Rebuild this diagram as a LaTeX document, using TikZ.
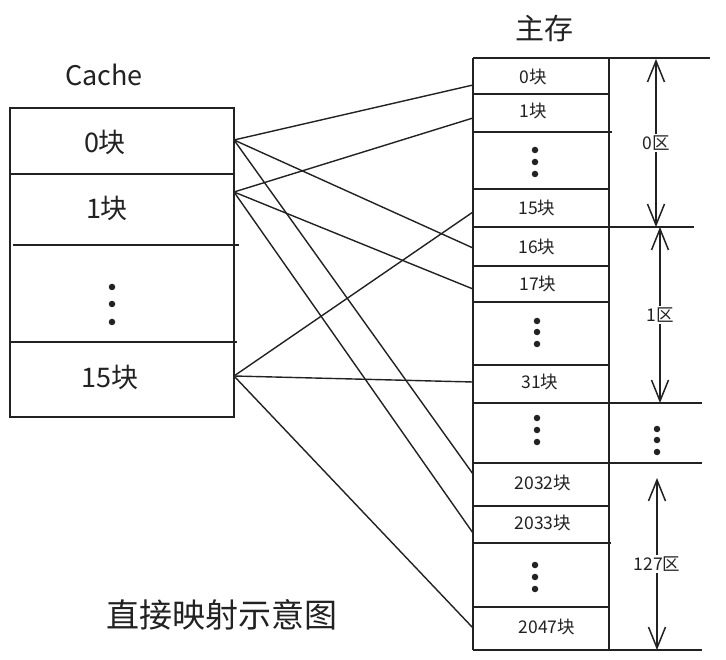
\documentclass[tikz,border=0pt]{standalone}
\usepackage{fontspec}
\setmainfont{Noto Sans CJK SC}
\usetikzlibrary{arrows.meta}
\definecolor{ink}{HTML}{222222}
\begin{document}
\begin{tikzpicture}[x=1pt,y=-1pt,
  box/.style={line width=1.7pt, draw=ink},
  link/.style={line width=1.4pt, draw=ink},
  dim/.style={line width=1.5pt, draw=ink, {Straight Barb[length=21pt,width=17pt]}-{Straight Barb[length=21pt,width=17pt]}},
  clab/.style={font=\fontsize{27}{30}\selectfont, inner sep=0pt, text=ink},
  mlab/.style={font=\fontsize{17.5}{20}\selectfont, inner sep=0pt, text=ink},
  zlab/.style={font=\fontsize{17.5}{20}\selectfont, fill=white, inner sep=2pt, text=ink},
  tlab/.style={inner sep=0pt, text=ink},
  dot/.style={circle, fill=ink, inner sep=0pt, minimum size=6.5pt}]
\useasboundingbox (0,0) rectangle (726,660);
\fill[white] (0,0) rectangle (726,660);

% ---------- Cache ----------
\node[clab] (cache) at (104,75) {Cache};
\draw[box] (10,108) rectangle (234,417);
\draw[box] (10,174) -- (234,174);
\draw[box] (13,245) -- (239,245);
\draw[box] (10,342) -- (237,342);
\node[clab] (l0) at (105,142) {0块};
\node[clab] (l1) at (107,208) {1块};
\node[clab] (l15) at (110,377) {15块};
\node[dot] (cd1) at (112,287) {};
\node[dot] (cd2) at (112,304) {};
\node[dot] (cd3) at (112,322) {};

% ---------- Main memory ----------
\node[tlab, font=\fontsize{29}{32}\selectfont] (mem) at (544,28) {主存};
\draw[box] (473,58) -- (473,650);
\draw[box] (609,58) -- (609,650);
\draw[box] (473,58) -- (710,58);
\draw[box] (473,94) -- (609,94);
\draw[box] (473,132) -- (612,132);
\draw[box] (473,189) -- (609,189);
\draw[box] (473,227) -- (694,227);
\draw[box] (473,266) -- (609,266);
\draw[box] (473,302) -- (609,302);
\draw[box] (473,365) -- (609,365);
\draw[box] (473,403) -- (702,403);
\draw[box] (473,463) -- (702,463);
\draw[box] (473,506) -- (609,506);
\draw[box] (473,543) -- (611,543);
\draw[box] (473,607) -- (609,607);
\draw[box] (473,650) -- (702,650);

\node[mlab] (b0) at (533,77) {0块};
\node[mlab] (b1) at (533,111) {1块};
\node[dot] (d1a) at (535,150) {};
\node[dot] (d1b) at (535,162) {};
\node[dot] (d1c) at (535,174) {};
\node[mlab] (b15) at (537,208) {15块};
\node[mlab] (b16) at (537,247) {16块};
\node[mlab] (b17) at (538,284) {17块};
\node[dot] (d2a) at (537,321) {};
\node[dot] (d2b) at (537,332) {};
\node[dot] (d2c) at (537,344) {};
\node[mlab] (b31) at (540,382) {31块};
\node[dot] (d3a) at (537,418) {};
\node[dot] (d3b) at (537,430) {};
\node[dot] (d3c) at (537,442) {};
\node[mlab] (b2032) at (543,483) {2032块};
\node[mlab] (b2033) at (543,523) {2033块};
\node[dot] (d4a) at (535,565) {};
\node[dot] (d4b) at (535,577) {};
\node[dot] (d4c) at (535,589) {};
\node[mlab] (b2047) at (547,627) {2047块};

% ---------- Regions ----------
\coordinate (z0t) at (656,59);
\coordinate (z0b) at (656,227);
\coordinate (z1t) at (660,227);
\coordinate (z1b) at (660,403);
\coordinate (z2t) at (657,478);
\coordinate (z2b) at (657,650);
\draw[dim] (z0t) -- node[zlab] (q0) {0区} (z0b);
\draw[dim] (z1t) -- node[zlab] (q1) {1区} (z1b);
\draw[dim] (z2t) -- node[zlab] (q2) {127区} (z2b);
\node[dot] (rd1) at (657,429) {};
\node[dot] (rd2) at (657,440) {};
\node[dot] (rd3) at (657,452) {};

% ---------- Connectors ----------
\coordinate (c0) at (234,140);
\coordinate (c1) at (234,192);
\coordinate (c15) at (234,376);
\coordinate (m0) at (473,85);
\coordinate (m1) at (473,118);
\coordinate (m15) at (473,212);
\coordinate (m16) at (473,248);
\coordinate (m17) at (473,289);
\coordinate (m31) at (473,382);
\coordinate (m2032) at (473,474);
\coordinate (m2033) at (473,533);
\coordinate (m2047) at (473,628);
\draw[link] (c0) -- (m0);
\draw[link] (c0) -- (m16);
\draw[link] (c0) -- (m2032);
\draw[link] (c1) -- (m1);
\draw[link] (c1) -- (m17);
\draw[link] (c1) -- (m2033);
\draw[link] (c15) -- (m15);
\draw[link] (c15) -- (m31);
\draw[link] (c15) -- (m2047);

% ---------- Caption ----------
\node[tlab, font=\fontsize{33}{36}\selectfont] (cap) at (222,615) {直接映射示意图};
\end{tikzpicture}
\end{document}
